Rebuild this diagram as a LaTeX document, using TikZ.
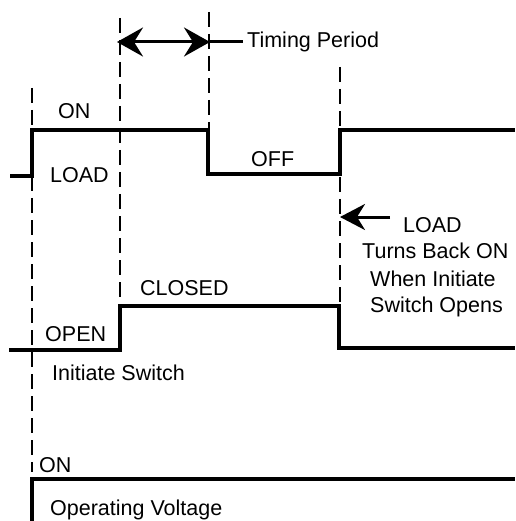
\documentclass[tikz,border=0pt]{standalone}
\usepackage{fontspec}
\setmainfont{Liberation Sans}
\usetikzlibrary{arrows.meta}
\begin{document}
\begin{tikzpicture}[x=1pt,y=-1pt,
  wave/.style={line width=3.4pt, line join=miter},
  guide/.style={line width=2.4pt, dash pattern=on 15pt off 7pt},
  lbl/.style={font=\fontsize{21.5}{25}\selectfont, inner sep=0pt, anchor=base west},
  arr/.style={line width=3pt}]
\useasboundingbox (0,0) rectangle (515,521);
% guide lines
\draw[guide] (32,88) -- (32,472);
\draw[guide] (120,18) -- (120,303);
\draw[guide] (209,12) -- (209,130);
\draw[guide] (340,67) -- (340,306);
% LOAD waveform
\draw[wave] (10,176) -- (32,176) -- (32,130) -- (208,130) -- (208,174) -- (340,174) -- (340,130) -- (515,130);
% Initiate switch waveform
\draw[wave] (9,350) -- (120,350) -- (120,306) -- (339,306) -- (339,348) -- (515,348);
% Operating voltage
\draw[wave] (32,521) -- (32,479) -- (515,479);
% timing arrow
\coordinate (tl) at (117,42);
\coordinate (tr) at (210,42);
\coordinate (te) at (243,42);
\draw[arr, {Stealth[length=26pt,width=29pt,inset=9pt]}-{Stealth[length=26pt,width=29pt,inset=9pt]}] (tl) -- (tr);
\draw[arr] (tr) -- (te);
% load arrow
\coordinate (la) at (390,217);
\coordinate (lb) at (340,217);
\draw[arr, -{Stealth[length=25pt,width=26pt,inset=8pt]}] (la) -- (lb);
% labels
\node[lbl] (on1) at (58,119) {ON};
\node[lbl] (load1) at (50,183) {LOAD};
\node[lbl] (tp) at (247,48) {Timing Period};
\node[lbl] (off) at (251,167) {OFF};
\node[lbl] (load2) at (403,232) {LOAD};
\node[lbl] (tb) at (362,258) {Turns Back ON};
\node[lbl] (wi) at (370,286) {When Initiate};
\node[lbl] (so) at (370,312) {Switch Opens};
\node[lbl] (cl) at (140,295) {CLOSED};
\node[lbl] (op) at (45,341) {OPEN};
\node[lbl] (is) at (52,380) {Initiate Switch};
\node[lbl] (on2) at (39,472) {ON};
\node[lbl] (ov) at (50,515) {Operating Voltage};
\end{tikzpicture}
\end{document}
